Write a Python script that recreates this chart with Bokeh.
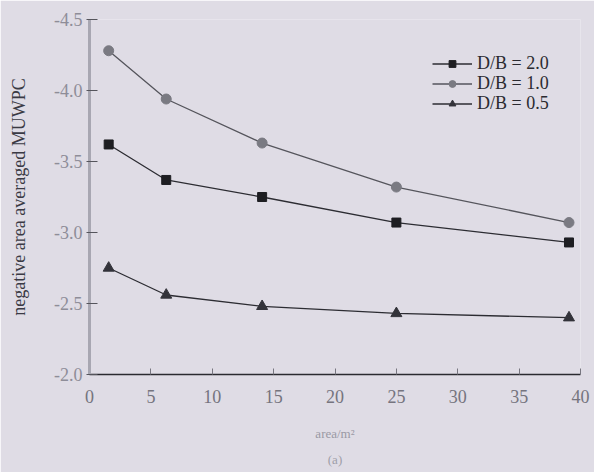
from bokeh.plotting import figure
from bokeh.models import Range1d, FixedTicker, PrintfTickFormatter, Legend, LegendItem, Title
from bokeh.embed import file_html
from bokeh.resources import INLINE

# Panel area (m^2) and negative area-averaged MUWPC for three depth ratios
area = [1.5625, 6.25, 14.0625, 25.0, 39.0625]
db_20 = [-3.62, -3.37, -3.25, -3.07, -2.93]
db_10 = [-4.28, -3.94, -3.63, -3.32, -3.07]
db_05 = [-2.75, -2.56, -2.48, -2.43, -2.40]
series_labels = ["D/B = 2.0", "D/B = 1.0", "D/B = 0.5"]
x_ticks = [0, 5, 10, 15, 20, 25, 30, 35, 40]
y_ticks = [-4.5, -4.0, -3.5, -3.0, -2.5, -2.0]

BG = "#dfdce5"
SERIF = "Liberation Serif"

p = figure(width=594, height=472, output_backend="svg", toolbar_location=None,
           x_range=Range1d(0, 40), y_range=Range1d(-2.0, -4.5))
p.min_border_left = 89
p.min_border_right = 14
p.min_border_top = 19
p.min_border_bottom = 10
p.background_fill_color = BG
p.border_fill_color = BG
p.outline_line_color = None
p.grid.visible = False

# axes
p.xaxis.ticker = FixedTicker(ticks=x_ticks)
p.yaxis.ticker = FixedTicker(ticks=y_ticks)
p.yaxis.formatter = PrintfTickFormatter(format="%.1f")
for ax in (p.xaxis[0], p.yaxis[0]):
    ax.major_label_text_font = SERIF
    ax.major_label_text_font_size = "18px"
    ax.minor_tick_line_color = None
    ax.axis_label_text_font = SERIF
    ax.axis_label_text_font_style = "normal"

p.yaxis.axis_line_color = "#a8a7b2"
p.yaxis.axis_line_width = 3
p.yaxis.major_tick_line_color = "#55555c"
p.yaxis.major_tick_in = 8
p.yaxis.major_tick_out = 3
p.yaxis.major_label_text_color = "#8e8d98"
p.yaxis.major_label_standoff = 4
p.yaxis.axis_label = "negative area averaged MUWPC"
p.yaxis.axis_label_text_font_size = "18px"
p.yaxis.axis_label_text_color = "#3a3a44"
p.yaxis.axis_label_standoff = 22

p.xaxis.axis_line_color = "#2a2a30"
p.xaxis.axis_line_width = 1.5
p.xaxis.major_tick_line_color = "#77767f"
p.xaxis.major_tick_in = 6
p.xaxis.major_tick_out = 0
p.xaxis.major_label_text_color = "#75747e"
p.xaxis.major_label_standoff = 15
p.xaxis.axis_label = "area/m²"
p.xaxis.axis_label_text_font_size = "13px"
p.xaxis.axis_label_text_color = "#9a99a4"
p.xaxis.axis_label_standoff = 20

p.add_layout(Title(text="(a)", align="center", text_font=SERIF, text_font_size="13px",
                   text_color="#a09fa9", text_font_style="normal", standoff=12), "below")

# series
l20 = p.line(area, db_20, line_color="#2c2c32", line_width=1.3)
m20 = p.scatter(area, db_20, marker="square", size=9, fill_color="#1e1e22", line_color="#1e1e22")
l10 = p.line(area, db_10, line_color="#55555c", line_width=1.3)
m10 = p.scatter(area, db_10, marker="circle", size=10, fill_color="#7a7a82", line_color="#7a7a82")
l05 = p.line(area, db_05, line_color="#2c2c32", line_width=1.3)
m05 = p.scatter(area, db_05, marker="triangle", size=11, fill_color="#33333a", line_color="#33333a")

# one single-entry legend per row, stacked tightly
entries = [(series_labels[0], [l20, m20]), (series_labels[1], [l10, m10]), (series_labels[2], [l05, m05])]
row_bottoms = [300, 280, 260]
for (label, rends), yb in zip(entries, row_bottoms):
    lg = Legend(items=[LegendItem(label=label, renderers=rends)], location=(343, yb))
    lg.background_fill_alpha = 0
    lg.border_line_color = None
    lg.padding = 0
    lg.margin = 0
    lg.glyph_width = 40
    lg.glyph_height = 17
    lg.label_standoff = 5
    lg.label_text_font = SERIF
    lg.label_text_font_size = "18px"
    lg.label_text_color = "#2a2a30"
    lg.label_height = 17
    p.add_layout(lg)

open("out.html", "w").write(file_html(p, INLINE))
